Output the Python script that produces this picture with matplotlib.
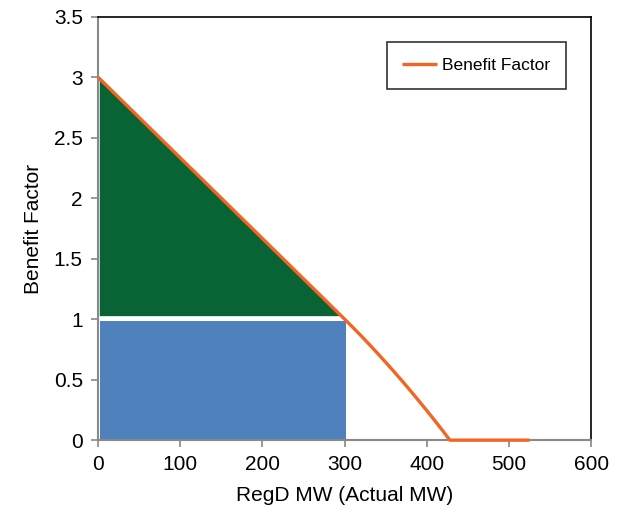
import matplotlib
matplotlib.use("Agg")
import matplotlib.pyplot as plt

matplotlib.rcParams['font.family'] = ['Liberation Sans', 'DejaVu Sans']

# benefit factor curve
mw = [0, 300, 310, 320, 330, 340, 350, 360, 370, 380, 390, 400, 410, 420, 428, 525]
benefit = [3, 1, 0.932, 0.863, 0.791, 0.718, 0.643, 0.567, 0.489, 0.409,
           0.327, 0.244, 0.159, 0.072, 0, 0]

# green triangle (above factor 1)
tri_x = [2, 296, 2]
tri_y = [2.99, 1.025, 1.025]

# blue block (factor 1 up to 300 MW)
block_x = 2
block_w = 300
block_bottom = 0.01
block_top = 0.985

fig = plt.figure(figsize=(6.21, 5.24), dpi=100)
ax = fig.add_axes([0.158, 0.160, 0.794, 0.808])

ax.fill(tri_x, tri_y, color='#086434', lw=0, zorder=1)
ax.bar(block_x, block_top - block_bottom, width=block_w, bottom=block_bottom,
       align='edge', color='#4f81bd', lw=0, zorder=1)
ax.plot(mw, benefit, color='#f26522', lw=2.4, label='Benefit Factor',
        solid_capstyle='butt', solid_joinstyle='round', clip_on=False, zorder=5)

ax.set_xlim(0, 600)
ax.set_ylim(0, 3.5)
ax.set_xticks([0, 100, 200, 300, 400, 500, 600])
ax.set_yticks([0, 0.5, 1, 1.5, 2, 2.5, 3, 3.5])
ax.set_yticklabels(['0', '0.5', '1', '1.5', '2', '2.5', '3', '3.5'])
ax.tick_params(direction='out', length=5, width=1.2, color='#888888',
               labelsize=15, pad=6)

for side in ['left', 'bottom']:
    ax.spines[side].set_color('#888888')
    ax.spines[side].set_linewidth(1.5)
for side in ['top', 'right']:
    ax.spines[side].set_color('black')
    ax.spines[side].set_linewidth(1.2)

ax.set_xlabel('RegD MW (Actual MW)', fontsize=15, labelpad=8)
ax.set_ylabel('Benefit Factor', fontsize=15, labelpad=8)

leg = ax.legend(loc='upper right', bbox_to_anchor=(0.949, 0.940), fontsize=12.5,
                frameon=True, fancybox=False, handlelength=2.0,
                borderpad=0.9, handletextpad=0.3, borderaxespad=0)
leg.get_frame().set_edgecolor('black')
leg.get_frame().set_linewidth(1.2)

fig.savefig('out.png', dpi=100)
